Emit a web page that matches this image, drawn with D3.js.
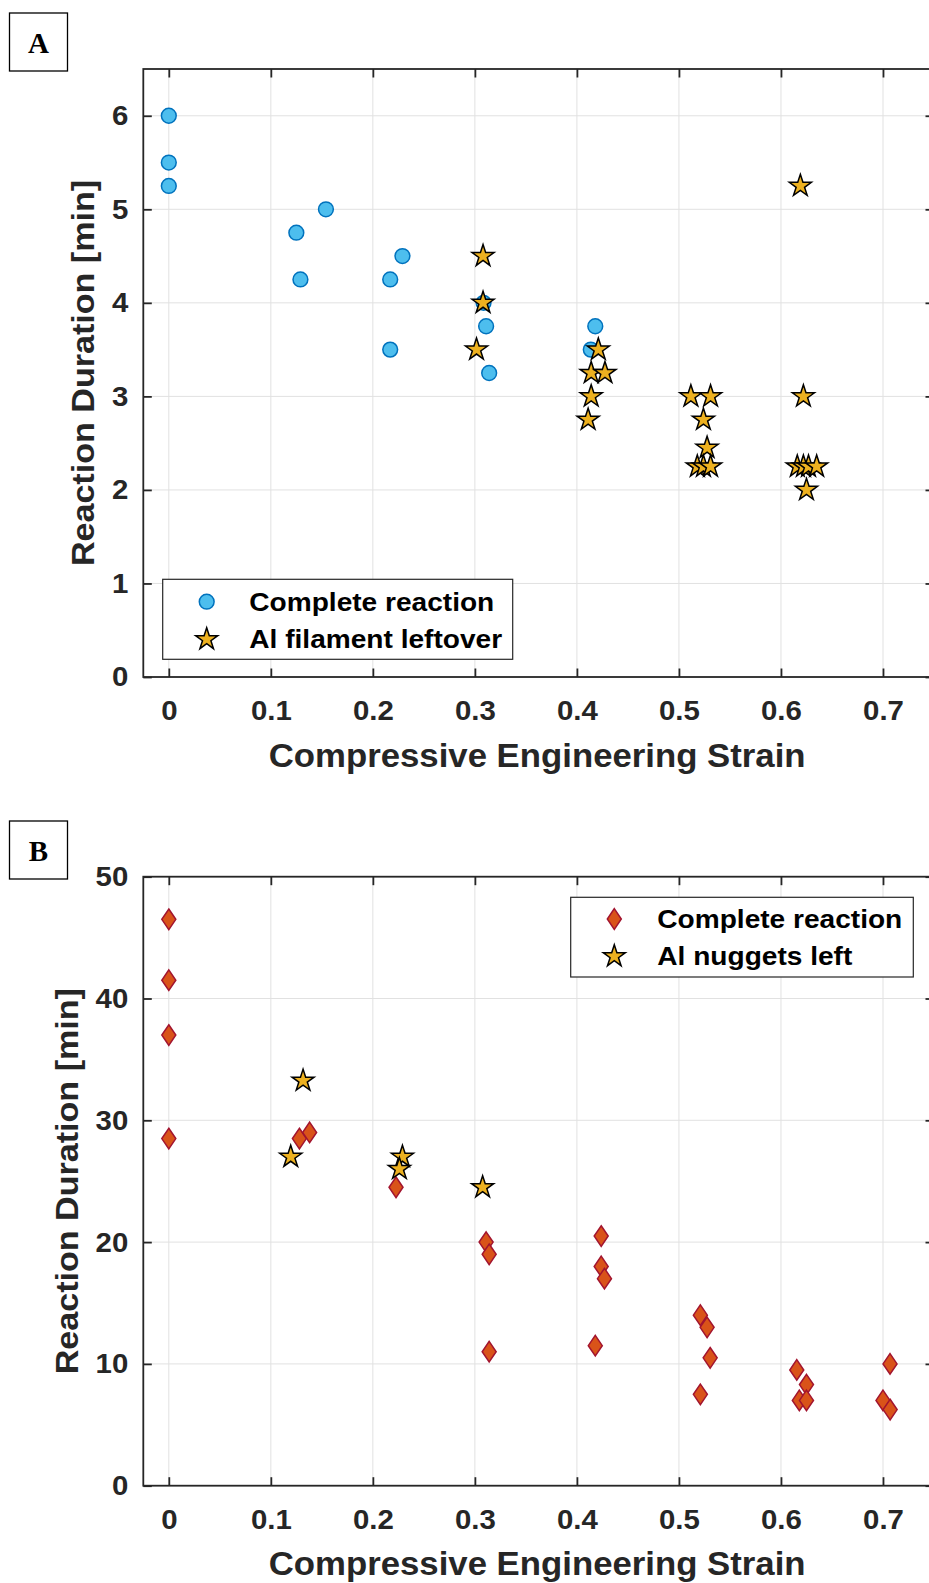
<!DOCTYPE html>
<html>
<head>
<meta charset="utf-8">
<script src="https://cdn.jsdelivr.net/npm/d3@7"></script>
<style>
  html, body { margin: 0; padding: 0; background: #fff; overflow: hidden; }
  text { font-family: "Liberation Sans", Arial, Helvetica, sans-serif; font-weight: bold; fill: #262626; }
  .panel-letter { font-family: "Liberation Serif", "Times New Roman", serif; fill: #000; }
  .legend text { fill: #000; }
</style>
</head>
<body>
<div id="vis"></div>
<script>
/*
 * Reaction duration vs. compressive strain, two stacked panels
 */

// shared x axis ticks
var strainTicks = [0, 0.1, 0.2, 0.3, 0.4, 0.5, 0.6, 0.7];

// panel A: filament samples
var filamentTicks = [0, 1, 2, 3, 4, 5, 6];
var filamentDoneStrain = [0, 0, 0, 0.154, 0.125, 0.129, 0.229, 0.217, 0.217, 0.3085, 0.311, 0.314, 0.418, 0.4136];
var filamentDoneTime = [6, 5.5, 5.25, 5, 4.75, 4.25, 4.5, 4.25, 3.5, 4, 3.75, 3.25, 3.75, 3.5];
var filamentLeftStrain = [0.619, 0.308, 0.308, 0.3016, 0.421, 0.414, 0.4275, 0.414, 0.411,
  0.5117, 0.531, 0.524, 0.5276, 0.518, 0.524, 0.531,
  0.622, 0.616, 0.622, 0.627, 0.635, 0.625];
var filamentLeftTime = [5.25, 4.5, 4, 3.5, 3.5, 3.25, 3.25, 3, 2.75,
  3, 3, 2.75, 2.45, 2.25, 2.25, 2.25,
  3, 2.25, 2.25, 2.25, 2.25, 2];

// panel B: nugget samples
var nuggetTicks = [0, 10, 20, 30, 40, 50];
var nuggetDoneStrain = [0, 0, 0, 0, 0.128, 0.138, 0.2227, 0.311, 0.314, 0.314,
  0.4238, 0.4238, 0.427, 0.418, 0.521, 0.5276, 0.5306, 0.521,
  0.6155, 0.625, 0.618, 0.625, 0.7069, 0.700, 0.707];
var nuggetDoneTime = [46.5, 41.5, 37, 28.5, 28.5, 29, 24.5, 20, 19, 11,
  20.5, 18, 17, 11.5, 14, 13, 10.5, 7.5,
  9.5, 8.3, 7, 7, 10, 7, 6.25];
var nuggetLeftStrain = [0.1316, 0.1195, 0.229, 0.226, 0.3076];
var nuggetLeftTime = [33.25, 27, 27, 26, 24.5];

var width = 929;
var height = 1583;

var colors = {
  axis: '#262626',
  grid: '#e1e1e1',
  circleFill: '#4DBEEE',
  circleStroke: '#0072BD',
  diamondFill: '#D95319',
  diamondStroke: '#A2142F',
  starFill: '#EDB120',
  starStroke: '#000000'
};

var svg = d3.select('#vis')
  .append('svg')
  .attr('width', width)
  .attr('height', height);

// MATLAB-style glyphs run a bit wider than Liberation Sans
function widen(sel, k) {
  sel.each(function () {
    var w = this.getComputedTextLength();
    d3.select(this)
      .attr('textLength', w * k)
      .attr('lengthAdjust', 'spacingAndGlyphs');
  });
}

// five-point star centred on 0,0
function starPath(r) {
  var pts = [];
  for (var i = 0; i < 10; i++) {
    var rad = i % 2 ? r * 0.382 : r;
    var a = -Math.PI / 2 + i * Math.PI / 5;
    pts.push([rad * Math.cos(a), rad * Math.sin(a)]);
  }
  return 'M' + pts.map(function (p) { return p[0].toFixed(2) + ',' + p[1].toFixed(2); }).join('L') + 'Z';
}

function diamondPath(w, h) {
  return 'M0,' + (-h) + 'L' + w + ',0L0,' + h + 'L' + (-w) + ',0Z';
}

var markers = {
  circle: function (g) {
    return g.append('circle')
      .attr('r', 7.4)
      .attr('fill', colors.circleFill)
      .attr('stroke', colors.circleStroke)
      .attr('stroke-width', 1.5);
  },
  diamond: function (g) {
    return g.append('path')
      .attr('d', diamondPath(7, 10.3))
      .attr('fill', colors.diamondFill)
      .attr('stroke', colors.diamondStroke)
      .attr('stroke-width', 1.5);
  },
  star: function (g) {
    return g.append('path')
      .attr('d', starPath(11.6))
      .attr('fill', colors.starFill)
      .attr('stroke', colors.starStroke)
      .attr('stroke-width', 1.5)
      .attr('stroke-linejoin', 'miter');
  }
};

function zip(xs, ys) {
  return xs.map(function (x, i) { return { x: x, y: ys[i] }; });
}

/*
 * one scatter panel: frame, grid, ticks, points, legend
 */
function drawPanel(cfg) {
  var left = 143.3;
  var right = 934;
  var top = cfg.top;
  var bottom = cfg.bottom;

  var x = d3.scaleLinear().domain([-0.025, 0.75]).range([left, right]);
  var y = d3.scaleLinear().domain(cfg.yDomain).range([bottom, top]);

  var g = svg.append('g').attr('class', 'panel');

  // grid
  g.append('g').selectAll('line.vgrid')
    .data(strainTicks)
    .enter().append('line')
    .attr('x1', function (d) { return x(d); })
    .attr('x2', function (d) { return x(d); })
    .attr('y1', top)
    .attr('y2', bottom)
    .attr('stroke', colors.grid)
    .attr('stroke-width', 1);

  g.append('g').selectAll('line.hgrid')
    .data(cfg.yTicks)
    .enter().append('line')
    .attr('x1', left)
    .attr('x2', right)
    .attr('y1', function (d) { return y(d); })
    .attr('y2', function (d) { return y(d); })
    .attr('stroke', colors.grid)
    .attr('stroke-width', 1);

  // axes, ticks point inward on all four sides
  var tick = 8.5;
  var bottomAxis = g.append('g')
    .attr('transform', 'translate(0,' + bottom + ')')
    .call(d3.axisBottom(x).tickValues(strainTicks).tickSize(-tick).tickPadding(23)
      .tickFormat(function (d) { return d === 0 ? '0' : d3.format('.1f')(d); }));
  var leftAxis = g.append('g')
    .attr('transform', 'translate(' + left + ',0)')
    .call(d3.axisLeft(y).tickValues(cfg.yTicks).tickSize(-tick).tickPadding(15).tickFormat(d3.format('d')));
  var topAxis = g.append('g')
    .attr('transform', 'translate(0,' + top + ')')
    .call(d3.axisTop(x).tickValues(strainTicks).tickSize(-tick).tickFormat(''));
  var rightAxis = g.append('g')
    .attr('transform', 'translate(' + right + ',0)')
    .call(d3.axisRight(y).tickValues(cfg.yTicks).tickSize(-tick).tickFormat(''));

  [bottomAxis, leftAxis, topAxis, rightAxis].forEach(function (a) {
    a.select('.domain').remove();
    a.selectAll('.tick line').attr('stroke', colors.axis).attr('stroke-width', 1.8);
    a.selectAll('.tick text')
      .attr('fill', colors.axis)
      .style('font-size', '28px');
  });
  widen(bottomAxis.selectAll('.tick text'), 1.05);
  widen(leftAxis.selectAll('.tick text'), 1.05);

  g.append('rect')
    .attr('x', left)
    .attr('y', top)
    .attr('width', right - left)
    .attr('height', bottom - top)
    .attr('fill', 'none')
    .attr('stroke', colors.axis)
    .attr('stroke-width', 1.8);

  // axis titles
  var xTitle = g.append('text')
    .attr('x', (left + right) / 2 - 1.5)
    .attr('y', bottom + 89.5)
    .attr('text-anchor', 'middle')
    .style('font-size', '33px')
    .text('Compressive Engineering Strain');
  widen(xTitle, 1.053);

  var yTitle = g.append('text')
    .attr('transform', 'translate(' + cfg.yTitleX + ',' + (top + bottom) / 2 + ') rotate(-90)')
    .attr('text-anchor', 'middle')
    .style('font-size', '32px')
    .text('Reaction Duration [min]');
  widen(yTitle, 1.065);

  // points, each series in its own layer
  cfg.series.forEach(function (s) {
    var layer = g.append('g');
    zip(s.xs, s.ys).forEach(function (d) {
      var m = layer.append('g')
        .attr('transform', 'translate(' + x(d.x) + ',' + y(d.y) + ')');
      markers[s.marker](m);
    });
  });

  // legend
  var lg = cfg.legend;
  var legend = g.append('g').attr('class', 'legend');
  legend.append('rect')
    .attr('x', lg.x)
    .attr('y', lg.y)
    .attr('width', lg.w)
    .attr('height', lg.h)
    .attr('fill', '#fff')
    .attr('stroke', colors.axis)
    .attr('stroke-width', 1.2);

  cfg.series.forEach(function (s, i) {
    var rowY = lg.y + lg.firstRow + i * lg.rowGap;
    var m = legend.append('g')
      .attr('transform', 'translate(' + (lg.x + lg.markerX) + ',' + rowY + ')');
    markers[s.marker](m);
    var label = legend.append('text')
      .attr('x', lg.x + lg.textX)
      .attr('y', rowY + 9)
      .style('font-size', '26px')
      .text(s.name);
    widen(label, 1.08);
  });

  // panel letter
  svg.append('rect')
    .attr('x', 9.5)
    .attr('y', cfg.letterY)
    .attr('width', 58)
    .attr('height', 58)
    .attr('fill', '#fff')
    .attr('stroke', '#000')
    .attr('stroke-width', 1.3);
  svg.append('text')
    .attr('class', 'panel-letter')
    .attr('x', 38.5)
    .attr('y', cfg.letterY + 40)
    .attr('text-anchor', 'middle')
    .style('font-size', '29px')
    .text(cfg.letter);
}

drawPanel({
  letter: 'A',
  letterY: 13,
  top: 69,
  bottom: 677,
  yDomain: [0, 6.5],
  yTicks: filamentTicks,
  yTitleX: 93.5,
  series: [
    { name: 'Complete reaction', marker: 'circle', xs: filamentDoneStrain, ys: filamentDoneTime },
    { name: 'Al filament leftover', marker: 'star', xs: filamentLeftStrain, ys: filamentLeftTime }
  ],
  legend: { x: 162.7, y: 579.3, w: 350, h: 80, markerX: 44, textX: 86.6, firstRow: 22.4, rowGap: 37.6 }
});

drawPanel({
  letter: 'B',
  letterY: 821,
  top: 876.7,
  bottom: 1485.7,
  yDomain: [0, 50],
  yTicks: nuggetTicks,
  yTitleX: 78.3,
  series: [
    { name: 'Complete reaction', marker: 'diamond', xs: nuggetDoneStrain, ys: nuggetDoneTime },
    { name: 'Al nuggets left', marker: 'star', xs: nuggetLeftStrain, ys: nuggetLeftTime }
  ],
  legend: { x: 570.7, y: 897.3, w: 342.6, h: 79.7, markerX: 43.6, textX: 86.6, firstRow: 21.7, rowGap: 37.3 }
});
</script>
</body>
</html>
